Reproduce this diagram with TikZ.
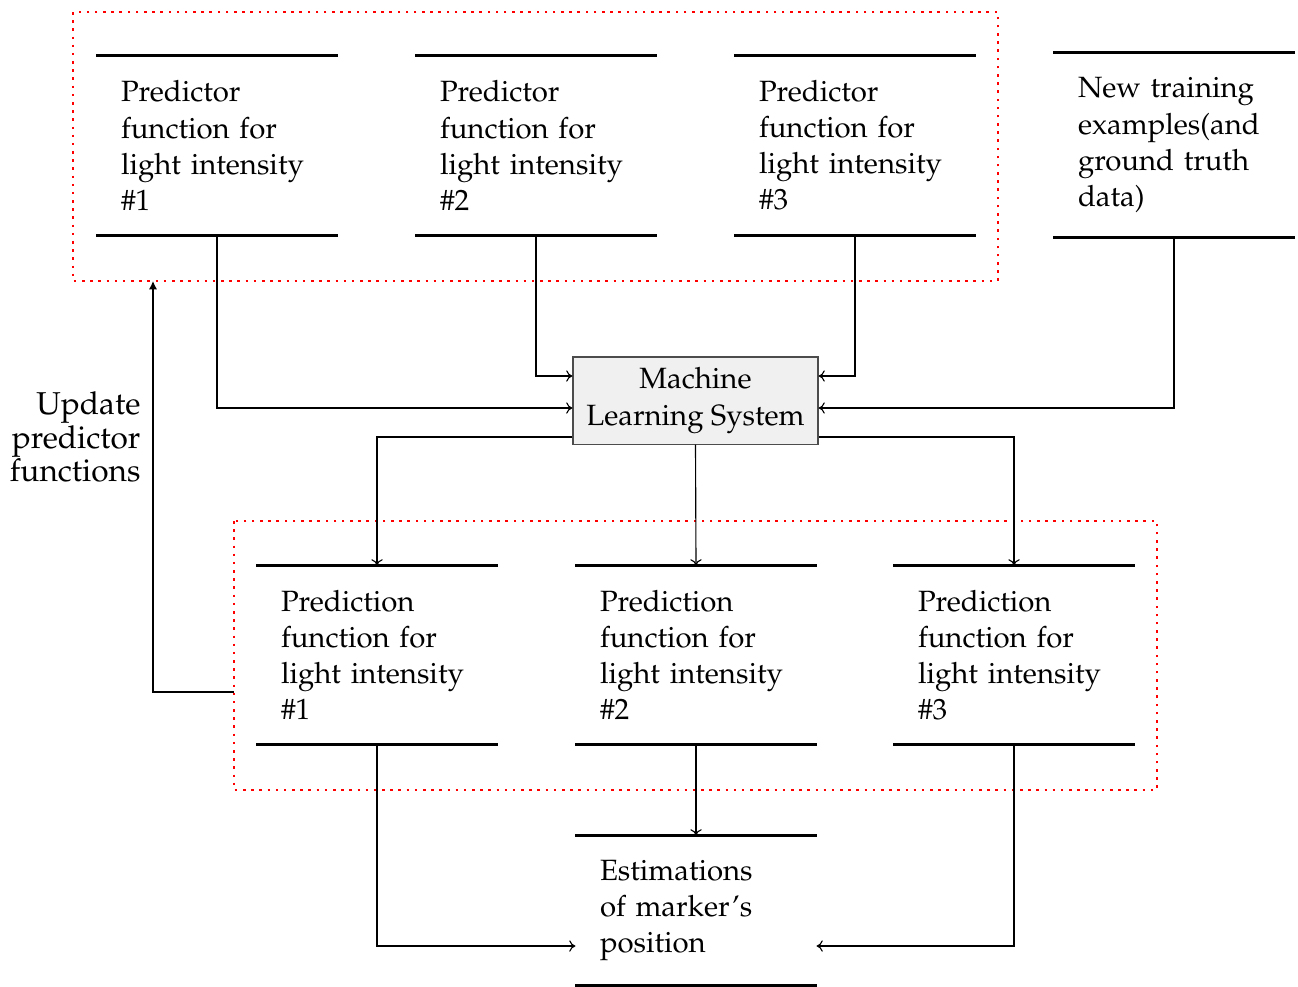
\documentclass[tikz,border=0pt]{standalone}
\IfFileExists{mathpazo.sty}{%
  \usepackage[T1]{fontenc}\usepackage{mathpazo}}{%
  \IfFileExists{palatino.sty}{%
    \usepackage[T1]{fontenc}\usepackage{palatino}}{%
    \usepackage{fontspec}\setmainfont{Liberation Serif}}}
\usetikzlibrary{arrows.meta}
\begin{document}
\fontsize{10.4}{12.8}\selectfont
\begin{tikzpicture}[x=0.3546pt, y=-0.3546pt,
  store/.style={rectangle, inner xsep=8.51pt, inner ysep=0pt, text width=68.08pt,
                minimum width=85.1pt, align=left},
  bar/.style={line width=1.1pt},
  link/.style={line width=0.4pt, -{To[length=2.2pt,width=4pt]}},
  group/.style={red, dotted, line width=0.9pt},
  mls/.style={draw=black!70, fill=black!6, line width=0.4pt, rectangle, align=center,
              minimum width=86.9pt, minimum height=30.9pt, inner sep=2pt}]
\useasboundingbox (0,0) rectangle (1298,986);

% groups of predictor / prediction functions
\draw[group] (73,12) rectangle (998,281);
\draw[group] (234,521) rectangle (1157,790);

% predictor functions
\node[store, minimum height=63.47pt] (p1) at (217,145.5) {Predictor\\function for\\light intensity\\\#1};
\node[store, minimum height=63.47pt] (p2) at (536,145.5) {Predictor\\function for\\light intensity\\\#2};
\node[store, minimum height=63.47pt] (p3) at (855,145.5) {Predictor\\function for\\light intensity\\\#3};
\node[store, minimum height=65.25pt] (nt) at (1174,145) {New training\\examples(and\\ground truth\\data)};

% learning system
\node[mls] (ml) at (695.5,400.5) {Machine\\Learning System};

% prediction functions
\node[store, minimum height=63.12pt] (q1) at (377,655) {Prediction\\function for\\light intensity\\\#1};
\node[store, minimum height=63.12pt] (q2) at (696,655) {Prediction\\function for\\light intensity\\\#2};
\node[store, minimum height=63.12pt] (q3) at (1014,655) {Prediction\\function for\\light intensity\\\#3};

% estimations
\node[store, minimum height=52.84pt] (es) at (696,910.5) {Estimations\\of marker's\\position};

% top and bottom rules of the data stores
\foreach \n in {p1,p2,p3,nt,q1,q2,q3,es}{
  \draw[bar] (\n.north west) -- (\n.north east);
  \draw[bar] (\n.south west) -- (\n.south east);
}

% inputs of the learning system
\coordinate (mlA) at ([shift={(0,-24.5)}]ml.west);
\coordinate (mlB) at ([shift={(0,7.5)}]ml.west);
\coordinate (mlC) at ([shift={(0,-24.5)}]ml.east);
\coordinate (mlD) at ([shift={(0,7.5)}]ml.east);
\draw[link] (p1.south) |- (mlB);
\draw[link] (p2.south) |- (mlA);
\draw[link] (p3.south) |- (mlC);
\draw[link] (nt.south) |- (mlD);

% outputs of the learning system
\coordinate (mlE) at ([shift={(0,36.5)}]ml.west);
\coordinate (mlF) at ([shift={(0,36.5)}]ml.east);
\draw[link] (mlE) -| (q1.north);
\draw[link] (ml.south) -- (q2.north);
\draw[link] (mlF) -| (q3.north);

% estimations from the prediction functions
\coordinate (esL) at ([shift={(0,35.5)}]es.west);
\coordinate (esR) at ([shift={(0,35.5)}]es.east);
\draw[link] (q1.south) |- (esL);
\draw[link] (q2.south) -- (es.north);
\draw[link] (q3.south) |- (esR);

% feedback loop
\coordinate (fbS) at (234,692);
\coordinate (fbE) at (153,281);
\draw[line width=0.5pt, -{Latex[length=3pt,width=3pt]}] (fbS) -| (fbE);
\node[align=right, anchor=east, font=\fontsize{11.2}{11.9}\selectfont, inner sep=0pt] (upd) at (141,437) {Update\\predictor\\functions};
\end{tikzpicture}
\end{document}
